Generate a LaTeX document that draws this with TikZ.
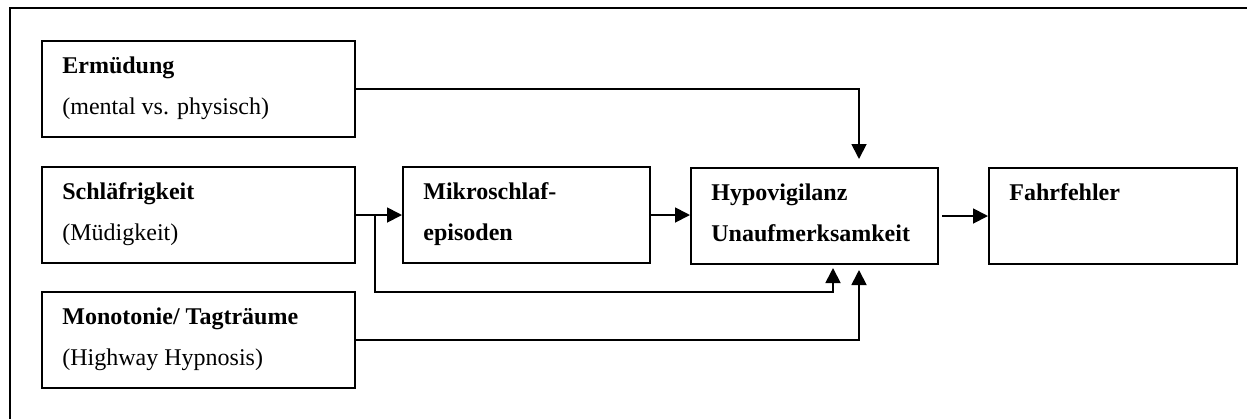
\documentclass[tikz,border=0pt]{standalone}
\usepackage{fontspec}
\setmainfont{Liberation Serif}
\usetikzlibrary{arrows.meta}
\begin{document}
\begin{tikzpicture}[x=0.5pt,y=-0.5pt,
  box/.style={draw,line width=1pt,rectangle,inner sep=0pt,anchor=north west,
              minimum height=48pt},
  wbox/.style={box,minimum width=156.5pt},
  nbox/.style={box,minimum width=123.5pt},
  title/.style={anchor=base west,inner sep=0pt,font=\bfseries\fontsize{12}{14}\selectfont},
  sub/.style={anchor=base west,inner sep=0pt,font=\fontsize{12}{14}\selectfont},
  conn/.style={line width=0.9pt},
  arr/.style={conn,-{Triangle[length=7.5pt,width=7.5pt]}}]
\useasboundingbox (0,0) rectangle (1247,419);
% frame
\draw[line width=1.1pt] (10,419) -- (10,8) -- (1247,8);

% causes
\node[wbox] (erm)  at (41,40)  {};
\node[wbox] (schl) at (41,166) {};
\node[wbox] (mono) at (41,291) {};
% chain
\node[nbox] (mikro) at (402,166) {};
\node[nbox] (hypo)  at (690,167) {};
\node[nbox,minimum width=124pt] (fahr) at (988,167) {};

% labels
\node[title] (ermT)  at ([shift={(10.5pt,-16.5pt)}]erm.north west) {Ermüdung};
\node[sub]   (ermS)  at ([shift={(10.5pt,-37pt)}]erm.north west) {(mental vs. physisch)};
\node[title] (schlT) at ([shift={(10.5pt,-16.5pt)}]schl.north west) {Schläfrigkeit};
\node[sub]   (schlS) at ([shift={(10.5pt,-37pt)}]schl.north west) {(Müdigkeit)};
\node[title] (monoT) at ([shift={(10.5pt,-16.5pt)}]mono.north west) {Monotonie/ Tagträume};
\node[sub]   (monoS) at ([shift={(10.5pt,-37pt)}]mono.north west) {(Highway Hypnosis)};
\node[title] (mikT1) at ([shift={(10.5pt,-16.5pt)}]mikro.north west) {Mikroschlaf-};
\node[title] (mikT2) at ([shift={(10.5pt,-37pt)}]mikro.north west) {episoden};
\node[title] (hypT1) at ([shift={(10.5pt,-16.5pt)}]hypo.north west) {Hypovigilanz};
\node[title] (hypT2) at ([shift={(10.5pt,-37pt)}]hypo.north west) {Unaufmerksamkeit};
\node[title] (fahrT) at ([shift={(10.5pt,-16.5pt)}]fahr.north west) {Fahrfehler};

% entry points on the Hypovigilanz box
\coordinate (inTop)  at ([xshift=22.25pt]hypo.north);
\coordinate (inBotA) at ([xshift=9.25pt]hypo.south);
\coordinate (inBotB) at ([xshift=22.25pt]hypo.south);
\coordinate (split)  at ([xshift=9.5pt]schl.east);

% connectors
\draw[arr,shorten >=4pt] (erm.east) -| (inTop);
\draw[arr] (schl.east) -- (mikro.west);
\draw[arr,shorten >=1.5pt] (split) -- ++(0,77) -| (inBotA);
\draw[arr,shorten >=2.5pt] (mono.east) -| (inBotB);
\draw[arr] (mikro.east) -- (mikro.east -| hypo.west);
\draw[arr,shorten <=1.5pt] (hypo.east) -- (fahr.west);
\end{tikzpicture}
\end{document}
